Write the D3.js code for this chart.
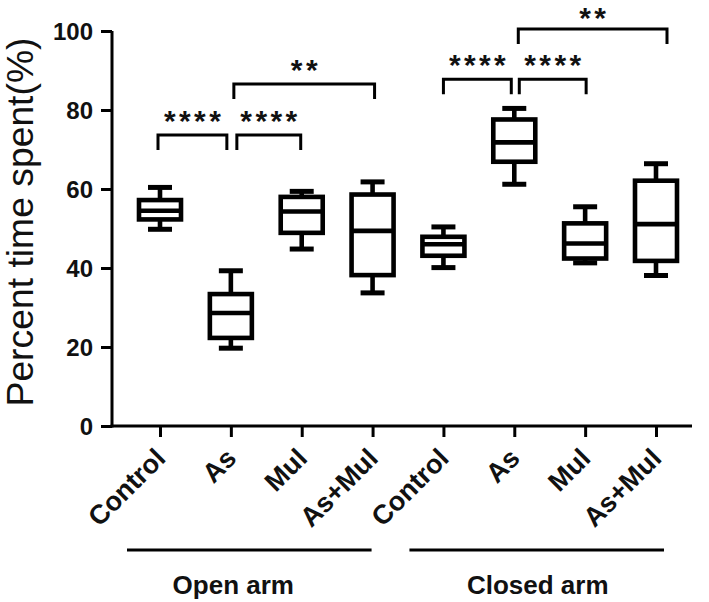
<!DOCTYPE html>
<html><head><meta charset="utf-8">
<script src="https://cdn.jsdelivr.net/npm/d3@7"></script>
<style>body{margin:0;background:#fff}svg{display:block}text{font-family:"Liberation Sans",Arial,sans-serif}</style>
</head><body><svg id="c" width="709" height="602"></svg>
<script>
const categories = ["Control","As","Mul","As+Mul","Control","As","Mul","As+Mul"];
const groups = ["Open arm","Closed arm"];
const mins    = [49.8, 19.7, 44.8, 33.7, 40.1, 61.2, 41.3, 38.1];
const q1s     = [52.3, 22.3, 48.9, 38.2, 43.1, 66.9, 42.4, 41.8];
const medians = [54.5, 28.6, 54.3, 49.4, 46.0, 71.8, 46.2, 51.1];
const q3s     = [57.2, 33.4, 58.0, 58.6, 47.9, 77.6, 51.3, 62.1];
const maxs    = [60.4, 39.3, 59.4, 61.8, 50.4, 80.4, 55.5, 66.4];
const yTicks = [0,20,40,60,80,100];
const compFrom  = [0, 1, 1, 4, 5, 5];
const compTo    = [1, 2, 3, 5, 6, 7];
const compLevel = [73.7, 73.7, 86.6, 87.8, 87.8, 100.5];
const compLabel = ["****","****","**","****","****","**"];

// layout-only offsets (px) for bracket ends
const legOff = [[-2,-4],[6,-1],[3,2],[0,-3],[5,1],[4,11]];

const svg = d3.select("#c");
const idx = categories.map((d,i)=>i);
const x = d3.scalePoint().domain(idx).range([160,656]);
const y = d3.scaleLinear().domain([0,100]).range([426,31]);

// axes
const yAxis = d3.axisLeft(y).tickValues(yTicks).tickSize(11).tickPadding(8);
const gy = svg.append("g").attr("transform","translate(112,0)").call(yAxis);
gy.select(".domain").attr("stroke","#000").attr("stroke-width",3).attr("d",`M0,${y(100)}V${y(0)+1.5}`);
gy.selectAll(".tick line").attr("stroke","#000").attr("stroke-width",3);
gy.selectAll(".tick text").attr("font-size",24).attr("font-weight","bold").attr("fill","#111").attr("dy","0.36em");

const xAxis = d3.axisBottom(x).tickSize(11).tickFormat("");
const gx = svg.append("g").attr("transform",`translate(0,${y(0)})`).call(xAxis);
gx.select(".domain").attr("stroke","#000").attr("stroke-width",3).attr("d","M110.5,0H692");
gx.selectAll(".tick line").attr("stroke","#000").attr("stroke-width",3);

// category labels
svg.append("g").selectAll("text").data(idx).join("text")
  .attr("transform",i=>`translate(${x(i)+7},${y(0)+34}) rotate(-45)`)
  .attr("text-anchor","end").attr("font-size",27).attr("font-weight","bold").attr("fill","#111")
  .text(i=>categories[i]);

// group lines + labels
const grpRange = [[0,3],[4,7]];
const grpLineOff = [[-33,-1],[-34,8]];
const grpTextOff = [-16, 1];
grpRange.forEach((g,k)=>{
  const x0 = x(g[0]) + grpLineOff[k][0];
  const x1 = x(g[1]) + grpLineOff[k][1];
  svg.append("line").attr("x1",x0).attr("x2",x1).attr("y1",550).attr("y2",550).attr("stroke","#000").attr("stroke-width",3);
  svg.append("text").attr("x",(x0+x1)/2 + grpTextOff[k]).attr("y",594).attr("text-anchor","middle")
    .attr("font-size",26).attr("font-weight","bold").attr("fill","#111").text(groups[k]);
});

// boxes
const hw = 21, cw = 12, sw = 4.6;
const bx = svg.append("g").attr("stroke","#000").attr("stroke-width",sw).attr("fill","none");
idx.forEach(i=>{
  const cx = x(i);
  bx.append("line").attr("x1",cx).attr("x2",cx).attr("y1",y(maxs[i])).attr("y2",y(q3s[i]));
  bx.append("line").attr("x1",cx).attr("x2",cx).attr("y1",y(q1s[i])).attr("y2",y(mins[i]));
  bx.append("line").attr("x1",cx-cw).attr("x2",cx+cw).attr("y1",y(maxs[i])).attr("y2",y(maxs[i])).attr("stroke-width",5);
  bx.append("line").attr("x1",cx-cw).attr("x2",cx+cw).attr("y1",y(mins[i])).attr("y2",y(mins[i])).attr("stroke-width",5);
  bx.append("rect").attr("x",cx-hw).attr("width",2*hw).attr("y",y(q3s[i])).attr("height",y(q1s[i])-y(q3s[i])).attr("fill","#fff");
  bx.append("line").attr("x1",cx-hw).attr("x2",cx+hw).attr("y1",y(medians[i])).attr("y2",y(medians[i]));
});

// significance brackets
const sg = svg.append("g");
compFrom.forEach((a,k)=>{
  const b = compTo[k];
  const yy = y(compLevel[k]);
  const xa = x(a) + legOff[k][0];
  const xb = x(b) + legOff[k][1];
  sg.append("path").attr("d",`M${xa},${yy+15}V${yy}H${xb}V${yy+15}`)
    .attr("fill","none").attr("stroke","#000").attr("stroke-width",3);
  sg.append("text").attr("x",(xa+xb)/2 + 1.7).attr("y",Math.max(yy-4, 27.5)).attr("text-anchor","middle")
    .attr("font-size",30).attr("font-weight","bold").attr("letter-spacing","3.4px").attr("fill","#111")
    .text(compLabel[k]);
});

// y label
svg.append("text").attr("transform","translate(33,222) rotate(-90)").attr("text-anchor","middle")
  .attr("font-size",36).attr("textLength",369).attr("lengthAdjust","spacingAndGlyphs")
  .attr("fill","#111").text("Percent time spent(%)");
</script></body></html>
